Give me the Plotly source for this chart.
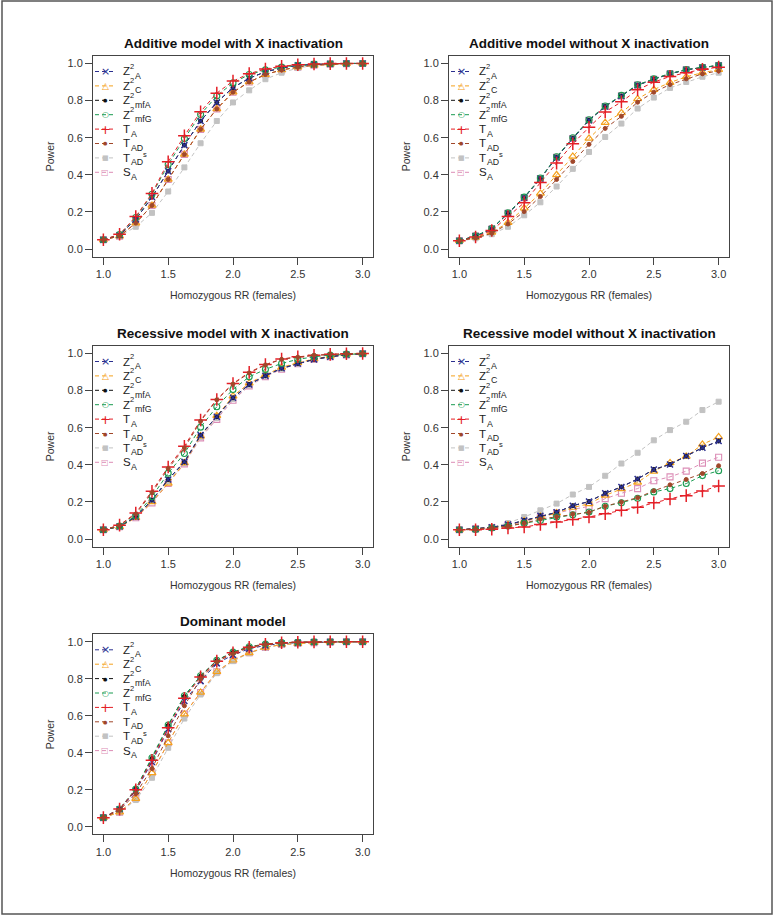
import plotly.graph_objects as go
from plotly.subplots import make_subplots

W, H = 778, 915

# ---------------- data ----------------
RR = [1.0, 1.125, 1.25, 1.375, 1.5, 1.625, 1.75, 1.875, 2.0,
      2.125, 2.25, 2.375, 2.5, 2.625, 2.75, 2.875, 3.0]

X_TICKS = [1.0, 1.5, 2.0, 2.5, 3.0]
X_TICK_LABELS = ["1.0", "1.5", "2.0", "2.5", "3.0"]
Y_TICKS = [0.0, 0.2, 0.4, 0.6, 0.8, 1.0]
Y_TICK_LABELS = ["0.0", "0.2", "0.4", "0.6", "0.8", "1.0"]
X_TITLE = "Homozygous RR (females)"
Y_TITLE = "Power"

PANEL_TITLES = [
    "Additive model with X inactivation",
    "Additive model without X inactivation",
    "Recessive model with X inactivation",
    "Recessive model without X inactivation",
    "Dominant model",
]

STATS = ["ZA", "ZC", "ZmfA", "ZmfG", "TA", "TAD", "TADs", "SA"]

# Panel 1: additive with X inactivation
ADD_XI_ZA   = [0.05, 0.075, 0.16, 0.28, 0.42, 0.56, 0.69, 0.79, 0.87, 0.92, 0.955, 0.975, 0.99, 0.995, 0.998, 1.0, 1.0]
ADD_XI_ZC   = [0.05, 0.07, 0.14, 0.235, 0.375, 0.51, 0.645, 0.755, 0.845, 0.90, 0.94, 0.965, 0.98, 0.99, 0.996, 0.999, 1.0]
ADD_XI_ZMFA = [0.05, 0.075, 0.16, 0.28, 0.42, 0.56, 0.69, 0.79, 0.87, 0.92, 0.955, 0.975, 0.99, 0.995, 0.998, 1.0, 1.0]
ADD_XI_ZMFG = [0.05, 0.078, 0.17, 0.295, 0.455, 0.595, 0.725, 0.825, 0.895, 0.94, 0.965, 0.98, 0.99, 0.996, 0.998, 1.0, 1.0]
ADD_XI_TA   = [0.05, 0.08, 0.175, 0.30, 0.47, 0.61, 0.74, 0.84, 0.905, 0.945, 0.97, 0.985, 0.993, 0.997, 0.999, 1.0, 1.0]
ADD_XI_TAD  = [0.05, 0.07, 0.14, 0.235, 0.375, 0.51, 0.645, 0.755, 0.845, 0.90, 0.94, 0.965, 0.98, 0.99, 0.996, 0.999, 1.0]
ADD_XI_TADS = [0.05, 0.07, 0.12, 0.195, 0.31, 0.44, 0.57, 0.69, 0.79, 0.855, 0.915, 0.95, 0.975, 0.99, 0.995, 0.998, 1.0]
ADD_XI_SA   = [0.05, 0.07, 0.14, 0.235, 0.375, 0.51, 0.645, 0.755, 0.845, 0.90, 0.94, 0.965, 0.98, 0.99, 0.996, 0.999, 1.0]

# Panel 2: additive without X inactivation
ADD_NXI_ZA   = [0.045, 0.07, 0.108, 0.193, 0.277, 0.38, 0.494, 0.596, 0.694, 0.768, 0.825, 0.883, 0.915, 0.944, 0.966, 0.978, 0.989]
ADD_NXI_ZC   = [0.045, 0.063, 0.09, 0.142, 0.22, 0.30, 0.40, 0.499, 0.596, 0.681, 0.733, 0.809, 0.859, 0.897, 0.928, 0.95, 0.966]
ADD_NXI_ZMFA = [0.045, 0.07, 0.108, 0.193, 0.277, 0.38, 0.494, 0.596, 0.694, 0.768, 0.825, 0.883, 0.915, 0.944, 0.966, 0.978, 0.989]
ADD_NXI_ZMFG = [0.045, 0.071, 0.11, 0.195, 0.28, 0.383, 0.497, 0.6, 0.697, 0.771, 0.828, 0.885, 0.917, 0.946, 0.967, 0.979, 0.99]
ADD_NXI_TA   = [0.045, 0.065, 0.10, 0.175, 0.25, 0.358, 0.463, 0.567, 0.656, 0.739, 0.793, 0.858, 0.899, 0.93, 0.95, 0.968, 0.98]
ADD_NXI_TAD  = [0.045, 0.06, 0.085, 0.135, 0.202, 0.283, 0.375, 0.472, 0.564, 0.65, 0.715, 0.791, 0.845, 0.886, 0.917, 0.944, 0.96]
ADD_NXI_TADS = [0.042, 0.058, 0.08, 0.12, 0.182, 0.252, 0.337, 0.432, 0.523, 0.604, 0.676, 0.757, 0.816, 0.868, 0.90, 0.928, 0.95]
ADD_NXI_SA   = [0.045, 0.07, 0.108, 0.193, 0.277, 0.38, 0.494, 0.596, 0.694, 0.768, 0.825, 0.883, 0.915, 0.944, 0.966, 0.978, 0.989]

# Panel 3: recessive with X inactivation
REC_XI_ZA   = [0.05, 0.068, 0.12, 0.21, 0.321, 0.416, 0.56, 0.659, 0.761, 0.833, 0.88, 0.92, 0.946, 0.968, 0.982, 0.993, 0.999]
REC_XI_ZC   = [0.05, 0.066, 0.115, 0.20, 0.30, 0.41, 0.555, 0.665, 0.77, 0.84, 0.885, 0.925, 0.95, 0.97, 0.985, 0.995, 1.0]
REC_XI_ZMFA = [0.05, 0.068, 0.12, 0.21, 0.321, 0.416, 0.56, 0.659, 0.761, 0.833, 0.88, 0.92, 0.946, 0.968, 0.982, 0.993, 0.999]
REC_XI_ZMFG = [0.05, 0.07, 0.125, 0.228, 0.355, 0.461, 0.603, 0.713, 0.806, 0.874, 0.914, 0.946, 0.968, 0.982, 0.991, 0.996, 0.998]
REC_XI_TA   = [0.05, 0.075, 0.14, 0.258, 0.388, 0.50, 0.641, 0.752, 0.838, 0.898, 0.94, 0.97, 0.982, 0.99, 0.995, 0.998, 1.0]
REC_XI_TAD  = [0.05, 0.073, 0.135, 0.25, 0.38, 0.49, 0.635, 0.75, 0.835, 0.895, 0.938, 0.968, 0.98, 0.99, 0.995, 0.998, 1.0]
REC_XI_TADS = [0.05, 0.067, 0.118, 0.205, 0.31, 0.41, 0.55, 0.652, 0.755, 0.828, 0.877, 0.918, 0.945, 0.967, 0.982, 0.992, 0.998]
REC_XI_SA   = [0.05, 0.066, 0.115, 0.195, 0.30, 0.405, 0.545, 0.645, 0.748, 0.825, 0.875, 0.915, 0.945, 0.967, 0.982, 0.992, 0.998]

# Panel 4: recessive without X inactivation
REC_NXI_ZA   = [0.05, 0.055, 0.063, 0.078, 0.10, 0.126, 0.144, 0.18, 0.202, 0.247, 0.281, 0.324, 0.375, 0.402, 0.447, 0.492, 0.528]
REC_NXI_ZC   = [0.05, 0.055, 0.062, 0.076, 0.097, 0.122, 0.14, 0.17, 0.19, 0.235, 0.27, 0.305, 0.365, 0.41, 0.445, 0.51, 0.55]
REC_NXI_ZMFA = [0.05, 0.055, 0.063, 0.078, 0.10, 0.126, 0.144, 0.18, 0.202, 0.247, 0.281, 0.324, 0.375, 0.402, 0.447, 0.492, 0.528]
REC_NXI_ZMFG = [0.05, 0.052, 0.06, 0.07, 0.085, 0.10, 0.119, 0.131, 0.146, 0.177, 0.196, 0.22, 0.254, 0.272, 0.299, 0.342, 0.368]
REC_NXI_TA   = [0.05, 0.05, 0.053, 0.06, 0.065, 0.079, 0.092, 0.106, 0.119, 0.137, 0.155, 0.171, 0.195, 0.216, 0.234, 0.259, 0.286]
REC_NXI_TAD  = [0.05, 0.053, 0.06, 0.07, 0.085, 0.108, 0.12, 0.135, 0.144, 0.177, 0.20, 0.223, 0.26, 0.292, 0.321, 0.353, 0.395]
REC_NXI_TADS = [0.05, 0.055, 0.065, 0.086, 0.119, 0.155, 0.191, 0.24, 0.281, 0.341, 0.407, 0.465, 0.532, 0.587, 0.632, 0.695, 0.74]
REC_NXI_SA   = [0.05, 0.055, 0.062, 0.075, 0.093, 0.119, 0.14, 0.16, 0.176, 0.218, 0.247, 0.272, 0.314, 0.335, 0.366, 0.409, 0.441]

# Panel 5: dominant
DOM_ZA   = [0.05, 0.095, 0.195, 0.35, 0.528, 0.68, 0.787, 0.883, 0.928, 0.962, 0.98, 0.99, 0.995, 0.998, 0.999, 1.0, 1.0]
DOM_ZC   = [0.05, 0.08, 0.153, 0.292, 0.454, 0.609, 0.726, 0.838, 0.90, 0.94, 0.969, 0.985, 0.99, 0.995, 0.998, 1.0, 1.0]
DOM_ZMFA = [0.05, 0.097, 0.204, 0.37, 0.548, 0.705, 0.814, 0.899, 0.943, 0.972, 0.987, 0.995, 0.997, 0.999, 1.0, 1.0, 1.0]
DOM_ZMFG = [0.05, 0.097, 0.204, 0.373, 0.55, 0.708, 0.816, 0.90, 0.944, 0.973, 0.987, 0.995, 0.997, 0.999, 1.0, 1.0, 1.0]
DOM_TA   = [0.05, 0.096, 0.2, 0.36, 0.535, 0.694, 0.81, 0.895, 0.94, 0.97, 0.986, 0.994, 0.997, 0.999, 1.0, 1.0, 1.0]
DOM_TAD  = [0.05, 0.09, 0.18, 0.315, 0.492, 0.654, 0.798, 0.89, 0.935, 0.968, 0.985, 0.993, 0.997, 0.999, 1.0, 1.0, 1.0]
DOM_TADS = [0.05, 0.078, 0.145, 0.265, 0.427, 0.585, 0.715, 0.83, 0.895, 0.938, 0.968, 0.984, 0.99, 0.995, 0.998, 1.0, 1.0]
DOM_SA   = [0.05, 0.08, 0.153, 0.292, 0.454, 0.609, 0.726, 0.838, 0.90, 0.94, 0.969, 0.985, 0.99, 0.995, 0.998, 1.0, 1.0]

PANELS = [
    [ADD_XI_ZA, ADD_XI_ZC, ADD_XI_ZMFA, ADD_XI_ZMFG, ADD_XI_TA, ADD_XI_TAD, ADD_XI_TADS, ADD_XI_SA],
    [ADD_NXI_ZA, ADD_NXI_ZC, ADD_NXI_ZMFA, ADD_NXI_ZMFG, ADD_NXI_TA, ADD_NXI_TAD, ADD_NXI_TADS, ADD_NXI_SA],
    [REC_XI_ZA, REC_XI_ZC, REC_XI_ZMFA, REC_XI_ZMFG, REC_XI_TA, REC_XI_TAD, REC_XI_TADS, REC_XI_SA],
    [REC_NXI_ZA, REC_NXI_ZC, REC_NXI_ZMFA, REC_NXI_ZMFG, REC_NXI_TA, REC_NXI_TAD, REC_NXI_TADS, REC_NXI_SA],
    [DOM_ZA, DOM_ZC, DOM_ZMFA, DOM_ZMFG, DOM_TA, DOM_TAD, DOM_TADS, DOM_SA],
]

# legend label parts: (base letter, subscript, superscript, superscript placed before subscript?)
LABEL_PARTS = {
    "ZA": ("Z", "A", "2", True),
    "ZC": ("Z", "C", "2", True),
    "ZmfA": ("Z", "mfA", "2", True),
    "ZmfG": ("Z", "mfG", "2", True),
    "TA": ("T", "A", None, False),
    "TAD": ("T", "AD", None, False),
    "TADs": ("T", "AD", "s", False),
    "SA": ("S", "A", None, False),
}

# ---------------- styles ----------------
STYLE = {
    "ZA":   dict(color="#2B2F8F", symbol="x-thin-open", size=6, lw=1.5, glyph="×", gsize=11),
    "ZC":   dict(color="#F4A11D", symbol="triangle-up-open", size=7, lw=1.2, glyph="△", gsize=9),
    "ZmfA": dict(color="#111111", symbol="circle", size=4, lw=1, glyph="●", gsize=5),
    "ZmfG": dict(color="#1A9B50", symbol="circle-open", size=6, lw=1.1, glyph="○", gsize=8),
    "TA":   dict(color="#E41E26", symbol="cross-thin-open", size=9, lw=1.5, glyph="+", gsize=13),
    "TAD":  dict(color="#A0472A", symbol="circle", size=4, lw=1, glyph="●", gsize=5),
    "TADs": dict(color="#C2C2C2", symbol="square", size=5, lw=1, glyph="■", gsize=7),
    "SA":   dict(color="#DC8DB6", symbol="square-open", size=6, lw=1.1, glyph="□", gsize=8),
}
BASE_WIDTH = {"Z": 7.3, "T": 7.7, "S": 7.9}
SUP_WIDTH = 4.4
SUB_WIDTH_PER_CHAR = 6.0
DRAW_ORDER = ["SA", "TADs", "ZC", "ZmfA", "ZA", "ZmfG", "TA", "TAD"]

# plot-area boxes in pixels: (left, top, right, bottom)
BOXES = [
    (93, 56, 373, 256.5),
    (449, 56, 729, 256.5),
    (93, 346, 373, 546.5),
    (449, 346, 729, 546.5),
    (93, 634.3, 373, 834.3),
]
CELLS = [(1, 1), (1, 2), (2, 1), (2, 2), (3, 1)]

FONT = "Liberation Sans, Arial, Helvetica, sans-serif"


def px(x):
    return x / W


def py(y):
    return 1 - y / H


def note(text, x, y, size, color="#222", xanchor="center", family=FONT, **kw):
    return dict(text=text, x=px(x), y=py(y), xref="paper", yref="paper",
                showarrow=False, xanchor=xanchor, yanchor="middle", borderpad=0,
                font=dict(family=family, size=size, color=color), **kw)


fig = make_subplots(rows=3, cols=2,
                    specs=[[{}, {}], [{}, {}], [{}, None]])

annotations = []
shapes = []

for p, (vals, (r, c), box) in enumerate(zip(PANELS, CELLS, BOXES)):
    series = dict(zip(STATS, vals))
    for key in DRAW_ORDER:
        st = STYLE[key]
        fig.add_trace(go.Scatter(
            x=RR, y=series[key], mode="lines+markers", showlegend=False,
            line=dict(color=st["color"], width=1, dash="4px,3px"),
            marker=dict(symbol=st["symbol"], size=st["size"], color=st["color"],
                        line=dict(color=st["color"], width=st["lw"])),
        ), row=r, col=c)

    n = p + 1
    left, top, right, bottom = box
    common = dict(ticks="outside", ticklen=7, tickwidth=1, tickcolor="#444",
                  showline=True, linecolor="#444", linewidth=1, mirror=True,
                  showgrid=False, zeroline=False,
                  tickfont=dict(family=FONT, size=11, color="#333"))
    xa = dict(domain=[px(left), px(right)], range=[0.92, 3.08],
              tickvals=X_TICKS, ticktext=X_TICK_LABELS, **common)
    ya = dict(domain=[py(bottom), py(top)], range=[-0.04, 1.04],
              tickvals=Y_TICKS, ticktext=Y_TICK_LABELS, **common)
    fig.update_layout(**{f"xaxis{n if n > 1 else ''}": xa,
                         f"yaxis{n if n > 1 else ''}": ya})

    cx = (left + right) / 2
    annotations.append(note(f"<b>{PANEL_TITLES[p]}</b>", cx, top - 13, 13.5, "#111"))
    annotations.append(note(X_TITLE, cx, bottom + 38.5, 10.5, "#333"))
    annotations.append(note(Y_TITLE, left - 43, (top + bottom) / 2, 10.5, "#333",
                            textangle=-90))

    # legend (top-left, no box)
    for i, key in enumerate(STATS):
        st = STYLE[key]
        ry = top + 15.5 + 14.4 * i
        shapes.append(dict(type="line", xref="paper", yref="paper",
                           x0=px(left + 2), x1=px(left + 22), y0=py(ry), y1=py(ry),
                           line=dict(color=st["color"], width=1, dash="4px,3px")))
        annotations.append(note(st["glyph"], left + 12, ry, st["gsize"], st["color"],
                                family="DejaVu Sans"))
        base, sub, sup, sup_first = LABEL_PARTS[key]
        lx = left + 29
        annotations.append(note(base, lx, ry, 11.5, "#222", xanchor="left"))
        sx = lx + BASE_WIDTH[base]
        if sup and sup_first:
            annotations.append(note(sup, sx, ry - 5, 7.5, "#222", xanchor="left"))
            sx += SUP_WIDTH
        annotations.append(note(sub, sx, ry + 4.5, 8.8, "#222", xanchor="left"))
        if sup and not sup_first:
            annotations.append(note(sup, sx + SUB_WIDTH_PER_CHAR * len(sub) + 0.5,
                                    ry - 3, 7.5, "#222", xanchor="left"))

# outer frame
shapes.append(dict(type="rect", xref="paper", yref="paper",
                   x0=px(2), x1=px(772), y0=py(914), y1=py(1),
                   line=dict(color="#555", width=1.5)))

fig.update_layout(width=W, height=H, margin=dict(l=0, r=0, t=0, b=0),
                  plot_bgcolor="white", paper_bgcolor="white",
                  annotations=annotations, shapes=shapes, showlegend=False,
                  font=dict(family=FONT))

fig.write_html("out.html", config={"displayModeBar": False},
               post_script="document.body.style.margin='0';document.body.style.overflow='hidden';")
